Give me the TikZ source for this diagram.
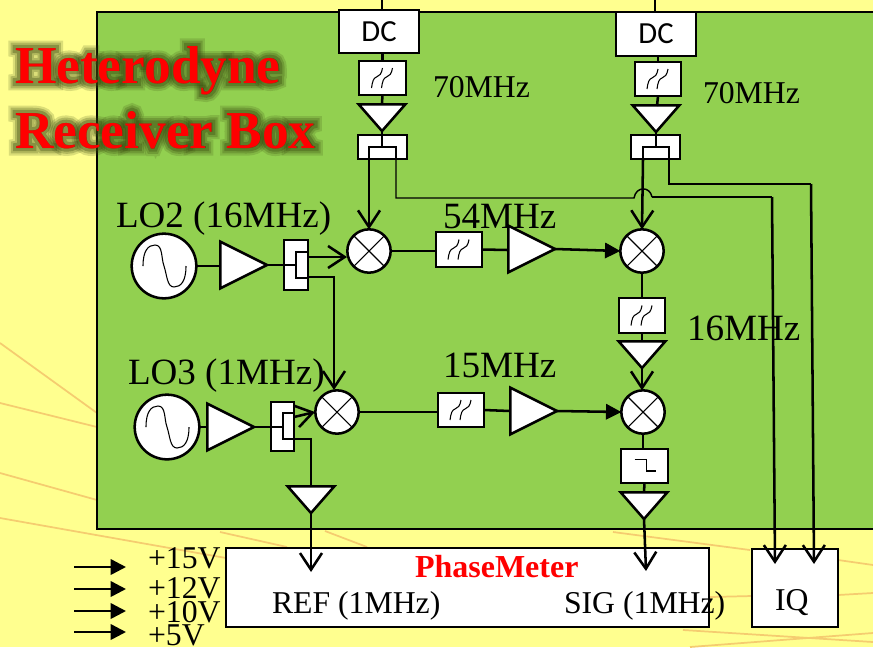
\documentclass[tikz,border=0pt]{standalone}
\usepackage{fontspec}
\setmainfont{Liberation Serif}
\newfontfamily\dcfont{Carlito}
\usetikzlibrary{arrows.meta,shapes.geometric,calc}
\definecolor{bgyellow}{HTML}{FFFF8F}
\definecolor{boxgreen}{HTML}{92D050}
\definecolor{rayorange}{HTML}{F5CC70}
\definecolor{glowc}{HTML}{3A4A10}
\tikzset{
  x=.75pt,y=-.75pt,
  wire/.style={line width=1.9pt,black},
  thinwire/.style={line width=1.1pt,black},
  open/.style={wire,-{Straight Barb[length=12.5pt,width=16.5pt,line width=1.9pt]}},
  solid tip/.style={wire,-{Triangle[length=11.5pt,width=11.5pt]}},
  ray/.style={rayorange,line width=1.3pt},
  rectn/.style={rectangle,draw=black,fill=white,line width=1.9pt,inner sep=0pt,outer sep=0pt},
  innern/.style={rectangle,draw=black,fill=white,line width=1.1pt,inner sep=0pt,outer sep=0pt},
  mixer/.style={circle,draw=black,fill=white,line width=1.9pt,minimum size=32.5pt,inner sep=0pt,outer sep=0pt,
    path picture={\draw[line width=.8pt] (path picture bounding box.north west)--(path picture bounding box.south east)
      (path picture bounding box.north east)--(path picture bounding box.south west);}},
  source/.style={circle,draw=black,fill=white,line width=1.9pt,minimum size=48.5pt,inner sep=0pt,outer sep=0pt,
    path picture={\draw[line width=.8pt,shift={(path picture bounding box.center)}] (-21,0)
      .. controls (-21,-15) and (-16,-21) .. (-9,-21)
      .. controls (-1,-21) and (-3,-8) .. (0,0)
      .. controls (3,9) and (3,21) .. (10,21)
      .. controls (17,21) and (22,15) .. (22,0);}},
  bandpass/.style={path picture={\draw[line width=.8pt,shift={(path picture bounding box.center)}]
      (-11,10) .. controls (-10,3) and (-9,0) .. (-6,-1) .. controls (-3,-2) and (-1,-4) .. (0,-10)
      (-1,10) .. controls (0,3) and (1,0) .. (4,-1) .. controls (7,-2) and (9,-4) .. (10,-10);}},
  lowpass/.style={path picture={\draw[line width=.8pt,shift={(path picture bounding box.center)}]
      (-10,-6.5) -- (1.7,-6.5) -- (1.7,5) -- (11.7,5);}},
  amp/.style={isosceles triangle,isosceles triangle stretches,draw=black,fill=white,line width=1.9pt,inner sep=0pt,outer sep=0pt},
  ampdown/.style={amp,minimum width=35pt,minimum height=20pt,shape border rotate=-90,anchor=apex},
  ampright/.style={amp,minimum width=35pt,minimum height=35pt,shape border rotate=0,anchor=apex},
  lab/.style={anchor=base west,inner sep=0pt,outer sep=0pt,text=black},
  big/.style={lab,font=\fontsize{27.8pt}{28pt}\selectfont},
  med/.style={lab,font=\fontsize{23.8pt}{24pt}\selectfont},
  redbold/.style={lab,text=red,font=\fontsize{40pt}{40pt}\selectfont\bfseries},
}
\newcommand{\bx}[6]{\node[rectn,#6,minimum width={(#4-#2)*.75pt},minimum height={(#5-#3)*.75pt}] (#1) at ({(#2+#4)/2},{(#3+#5)/2}) {};}
\newcommand{\ibx}[5]{\node[innern,minimum width={(#4-#2)*.75pt},minimum height={(#5-#3)*.75pt}] (#1) at ({(#2+#4)/2},{(#3+#5)/2}) {};}
\begin{document}
\begin{tikzpicture}
\useasboundingbox (0,0) rectangle (873,647);
\fill[bgyellow] (0,0) rectangle (873,647);
% background rays
\draw[ray] (0,343)--(97,413) (0,403)--(97,427) (0,473)--(97,500) (0,518)--(226,558);
\draw[ray] (220,532)--(287,547) (325,531)--(367,547);
\draw[ray] (613,532)--(750,550) (838,560)--(873,565) (710,597)--(752,596) (838,595)--(873,593);
\draw[ray] (683,630)--(873,642) (690,647)--(873,633);
% main box
\node[rectn,draw=black,fill=boxgreen,minimum width={800*.75pt},minimum height={517*.75pt}] (mainbox) at (497,270.5) {};
% wires under components
\coordinate (topa) at (382,0); \coordinate (topb) at (655,0);
\draw[wire] (topa)--(382,12) (topb)--(655,14);
% DC
\bx{dca}{339}{10}{419}{53}{}
\bx{dcb}{616}{12}{696}{56}{}
\node[inner sep=0pt,font=\fontsize{23pt}{24pt}\dcfont] (dcat) at (379,32) {DC};
\node[inner sep=0pt,font=\fontsize{23pt}{24pt}\dcfont] (dcbt) at (656,34) {DC};
% column filters
\bx{fa}{359}{61}{406}{95}{bandpass}
\bx{fb}{635}{62}{681}{96}{bandpass}
\draw[wire] (dca.south -| fa) -- (fa.north);
\draw[wire] (dcb.south -| fb) -- (fb.north);
\node[ampdown] (ampa) at (382,131) {};
\node[ampdown] (ampb) at (656,132) {};
\draw[wire] (fa.south)--(382,103);
\draw[wire] (fb.south)--(657,106);
% couplers top
\bx{ca}{358}{135}{407}{159}{}
\bx{cb}{631}{135}{680}{159}{}
\ibx{cai}{369}{147}{396}{159}
\ibx{cbi}{643}{147}{669}{159}
\draw[thinwire] (ampa.apex)--(cai.north -| ampa.apex);
\draw[thinwire] (ampb.apex)--(cbi.north -| ampb.apex);
% mixers
\node[mixer] (mxa) at (369,251) {};
\node[mixer] (mxb) at (642,251) {};
\node[mixer] (mxc) at (337,412) {};
\node[mixer] (mxd) at (643,412) {};
% top coupler outputs
\coordinate (caout) at (369,159); \coordinate (cbout) at (643,159);
\coordinate (cathru) at (396,159); \coordinate (cbthru) at (669,159);
\coordinate (jumpa) at (634,198); \coordinate (jumpb) at (652,197);
\coordinate (bendq) at (772,197); \coordinate (bendi) at (811,184);
\coordinate (iqa) at (775,564); \coordinate (iqb) at (814,564);
\draw[open] (caout)--(mxa.north);
\draw[open] (cbout)--(mxb.north);
\draw[thinwire] (cathru) |- (jumpa) .. controls (636,186) and (650,186) .. (jumpb);
\draw[wire] (jumpb)--(bendq);
\draw[wire] (cbthru) |- (bendi);
% LO2 row
\node[source] (loa) at (164,266) {};
\node[ampright] (ampc) at (267,265) {};
\bx{cc}{284}{240}{308}{290}{}
\ibx{cci}{296}{252}{308}{278}
\draw[thinwire] (loa.east)--(221,266);
\draw[thinwire] (ampc.apex)--(cci.west |- ampc.apex);
\coordinate (ccout) at (308,257); \coordinate (ccthru) at (308,277);
\coordinate (mxain) at (347,257); \coordinate (mxcin) at (334,390);
\draw[open] (ccout)--(mxain);
\draw[open] (ccthru)-|(mxcin);
% band 54
\bx{fc}{436}{232}{482}{267}{bandpass}
\draw[wire] (mxa.east)--(fc.west |- mxa.east);
\node[ampright] (ampd) at (555,249) {};
\draw[wire] (fc.east)--(508,250);
\draw[solid tip] (ampd.apex)--(mxb.west);
% column down
\bx{fd}{619}{298}{665}{333}{bandpass}
\draw[wire] (mxb.south)--(fd.north -| mxb.south);
\node[ampdown] (ampe) at (642,368) {};
\draw[wire] (fd.south)--(642,342);
\draw[open] (ampe.apex)--(mxd.north -| ampe.apex);
% LO3 row
\node[source] (lob) at (167,427) {};
\node[ampright] (ampf) at (254,427) {};
\bx{cd}{271}{402}{294}{451}{}
\ibx{cdi}{283}{413}{294}{439}
\draw[thinwire] (lob.east)--(208,427);
\draw[thinwire] (ampf.apex)--(cdi.west |- ampf.apex);
\coordinate (cdout) at (294,417); \coordinate (cdthru) at (294,439);
\coordinate (mxcleft) at (315,412);
\draw[open] (cdout)--(mxcleft);
\node[ampdown] (ampg) at (311,513) {};
\draw[wire] (cdthru)-|(311,486);
\coordinate (refin) at (311,572);
% band 15
\bx{fe}{438}{393}{484}{427}{bandpass}
\draw[wire] (mxc.east)--(fe.west |- mxc.east);
\node[ampright] (amph) at (557,411) {};
\draw[wire] (fe.east)--(510,411);
\draw[solid tip] (amph.apex)--(mxd.west);
% LPF and last amp
\bx{lp}{621}{449}{668}{483}{lowpass}
\draw[wire] (mxd.south)--(lp.north -| mxd.south);
\node[ampdown] (ampi) at (644,519) {};
\draw[wire] (lp.south)--(644,492);
% bottom boxes
\bx{pm}{226}{548}{709}{627}{}
\bx{iq}{752}{549}{838}{627}{}
\coordinate (sigin) at (646,571);
\draw[open] (ampg.apex)--(refin);
\draw[open] (ampi.apex)--(sigin);
\draw[open] (bendq)--(iqa);
\draw[open] (bendi)--(iqb);
% labels
\node[med] (l70a) at (433,97) {70MHz};
\node[med] (l70b) at (703,103) {70MHz};
\node[big] (l54) at (443,228) {54MHz};
\node[big] (l15) at (443,377) {15MHz};
\node[big] (l16) at (687,340) {16MHz};
\node[big] (llo2) at (116,227) {LO2 (16MHz)};
\node[big] (llo3) at (128,384) {LO3 (1MHz)};
\node[lab,text=red,font=\fontsize{24pt}{24pt}\selectfont\bfseries] (lpm) at (415,577) {PhaseMeter};
\node[med] (lref) at (272,613) {REF (1MHz)};
\node[med] (lsig) at (564,613) {SIG (1MHz)};
\node[med] (liq) at (775,610) {IQ};
% supply arrows
\foreach \n/\y/\by/\t in {a/567/568/+15V,b/589/598/+12V,c/611/622/+10V,d/632/645/+5V}{
  \node[med] (v\n) at (148,\by) {\t};
  \coordinate (vs\n) at (74,\y); \coordinate (ve\n) at (126,\y);
  \draw[solid tip] (vs\n)--(ve\n);
}
% title glow
\begin{scope}[opacity=.18]
\node[redbold,text=glowc,font=\fontsize{40pt}{40pt}\bfseries\addfontfeature{FakeBold=28}] (gha) at (15,83) {Heterodyne};
\node[redbold,text=glowc,font=\fontsize{40pt}{40pt}\bfseries\addfontfeature{FakeBold=28}] (ghb) at (15,148) {Receiver Box};
\end{scope}
\begin{scope}[opacity=.25]
\node[redbold,text=glowc,font=\fontsize{40pt}{40pt}\bfseries\addfontfeature{FakeBold=20}] (gma) at (15,83) {Heterodyne};
\node[redbold,text=glowc,font=\fontsize{40pt}{40pt}\bfseries\addfontfeature{FakeBold=20}] (gmb) at (15,148) {Receiver Box};
\end{scope}
\begin{scope}[opacity=.35]
\node[redbold,text=glowc,font=\fontsize{40pt}{40pt}\bfseries\addfontfeature{FakeBold=12}] (gna) at (15,83) {Heterodyne};
\node[redbold,text=glowc,font=\fontsize{40pt}{40pt}\bfseries\addfontfeature{FakeBold=12}] (gnb) at (15,148) {Receiver Box};
\end{scope}
\node[redbold] (tha) at (15,83) {Heterodyne};
\node[redbold] (thb) at (15,148) {Receiver Box};
\end{tikzpicture}
\end{document}
